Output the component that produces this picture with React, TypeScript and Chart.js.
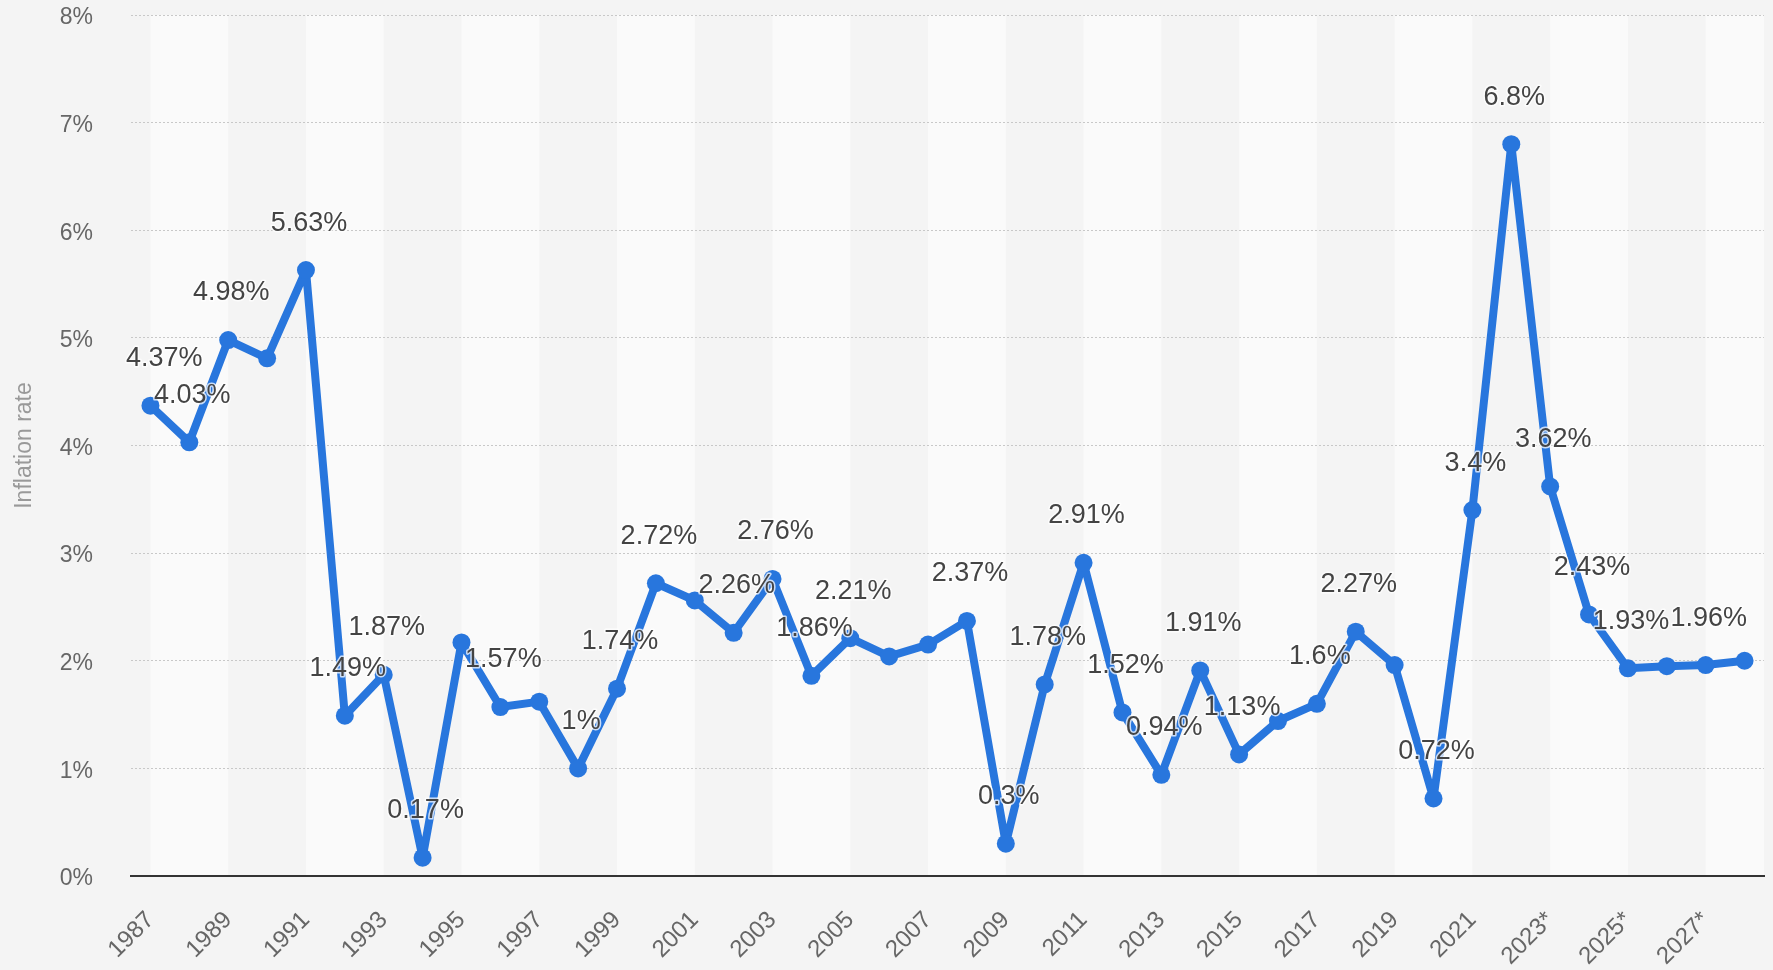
import React, { useEffect, useRef } from 'react';
import { Chart, registerables } from 'chart.js';

Chart.register(...registerables);

const years = [
  '1987', '1988', '1989', '1990', '1991', '1992', '1993', '1994', '1995', '1996',
  '1997', '1998', '1999', '2000', '2001', '2002', '2003', '2004', '2005', '2006',
  '2007', '2008', '2009', '2010', '2011', '2012', '2013', '2014', '2015', '2016',
  '2017', '2018', '2019', '2020', '2021', '2022', '2023*', '2024*', '2025*', '2026*',
  '2027*', '2028*',
];

const inflation = [
  4.37, 4.03, 4.98, 4.81, 5.63, 1.49, 1.87, 0.17, 2.17, 1.57,
  1.62, 1.0, 1.74, 2.72, 2.56, 2.26, 2.76, 1.86, 2.21, 2.04,
  2.15, 2.37, 0.3, 1.78, 2.91, 1.52, 0.94, 1.91, 1.13, 1.44,
  1.6, 2.27, 1.96, 0.72, 3.4, 6.8, 3.62, 2.43, 1.93, 1.95,
  1.96, 2.0,
];

const labelShown = [
  true, true, true, false, true, true, true, true, false, true,
  false, true, true, true, false, true, true, true, true, false,
  false, true, true, true, true, true, true, true, true, false,
  true, true, false, true, true, true, true, true, true, false,
  true, false,
];

const yTickValues = [0, 1, 2, 3, 4, 5, 6, 7, 8];

const FONT = "'Liberation Sans', Arial, Helvetica, sans-serif";
const BLUE = '#2876dd';

const bandsPlugin = {
  id: 'bands',
  beforeDraw(chart: any) {
    const { ctx, chartArea, scales } = chart;
    ctx.save();
    ctx.fillStyle = '#f4f4f4';
    ctx.fillRect(0, 0, chart.width, chart.height);
    const xs = scales.x;
    ctx.fillStyle = '#fafafa';
    const step = xs.getPixelForValue(1) - xs.getPixelForValue(0);
    for (let i = 0; i < years.length; i += 4) {
      const x0 = xs.getPixelForValue(i);
      const x1 = Math.min(x0 + 2 * step, chartArea.right);
      ctx.fillRect(x0, chartArea.top, x1 - x0, chartArea.bottom - chartArea.top);
    }
    ctx.restore();
  },
};

const labelsPlugin = {
  id: 'pointLabels',
  afterDatasetsDraw(chart: any) {
    const { ctx, chartArea } = chart;
    const meta = chart.getDatasetMeta(0);
    ctx.save();
    ctx.font = `27px ${FONT}`;
    ctx.textAlign = 'center';
    ctx.textBaseline = 'middle';
    ctx.lineJoin = 'round';
    meta.data.forEach((el: any, i: number) => {
      if (!labelShown[i]) return;
      const text = `${inflation[i]}%`;
      const w = ctx.measureText(text).width;
      let cx = el.x + 3;
      const minC = chartArea.left - 5 + w / 2;
      const maxC = chartArea.right + 5 - w / 2;
      if (cx < minC) cx = minC;
      if (cx > maxC) cx = maxC;
      const cy = el.y - 47;
      ctx.strokeStyle = 'rgba(255,255,255,0.75)';
      ctx.lineWidth = 3;
      ctx.strokeText(text, cx, cy);
      ctx.fillStyle = '#444444';
      ctx.fillText(text, cx, cy);
    });
    ctx.restore();
  },
};

export default function App() {
  const ref = useRef<HTMLCanvasElement | null>(null);

  useEffect(() => {
    if (!ref.current) return;
    const chart = new Chart(ref.current, {
      type: 'line',
      data: {
        labels: years,
        datasets: [
          {
            data: inflation,
            borderColor: BLUE,
            backgroundColor: BLUE,
            borderWidth: 8,
            borderJoinStyle: 'round',
            borderCapStyle: 'round',
            pointRadius: 9,
            pointHoverRadius: 9,
            pointBackgroundColor: BLUE,
            pointBorderWidth: 0,
            tension: 0,
            fill: false,
          },
        ],
      },
      options: {
        responsive: false,
        animation: false,
        events: [],
        layout: { autoPadding: false, padding: { top: 15, right: 9, left: 0, bottom: 0 } },
        plugins: {
          legend: { display: false },
          tooltip: { enabled: false },
        },
        scales: {
          x: {
            type: 'category',
            offset: true,
            grid: { display: false, drawTicks: false },
            border: { display: true, color: '#333333', width: 2 },
            afterFit(scale: any) {
              scale.height = 94;
              scale.paddingTop = 0;
              scale.paddingBottom = 0;
              scale.paddingLeft = 0;
              scale.paddingRight = 0;
            },
            ticks: {
              autoSkip: false,
              maxRotation: 45,
              minRotation: 45,
              padding: 30,
              color: '#666666',
              font: { family: FONT, size: 24 },
              callback: (_v: any, idx: number) => (idx % 2 === 0 ? years[idx] : ''),
            },
          },
          y: {
            min: 0,
            max: 8,
            afterFit(scale: any) {
              scale.width = 131;
              scale.paddingTop = 0;
              scale.paddingBottom = 0;
            },
            afterBuildTicks(scale: any) {
              scale.ticks = yTickValues.map((v) => ({ value: v }));
            },
            grid: {
              color: (c: any) => (c.tick && c.tick.value === 0 ? 'rgba(0,0,0,0)' : '#c8c8c8'),
              lineWidth: 1,
              drawTicks: false,
            },
            border: { display: false, dash: [2, 2] },
            ticks: {
              padding: 38,
              labelOffset: 3,
              color: '#666666',
              font: { family: FONT, size: 23 },
              callback: (v: any) => `${v}%`,
            },
            title: {
              display: true,
              text: 'Inflation rate',
              color: '#999999',
              font: { family: FONT, size: 23 },
              padding: { top: 11, bottom: 0 },
            },
          },
        },
      } as any,
      plugins: [bandsPlugin, labelsPlugin],
    });
    return () => chart.destroy();
  }, []);

  return (
    <div style={{ position: 'absolute', left: 0, top: 0, width: 1773, height: 970 }}>
      <canvas ref={ref} width={1773} height={970} style={{ display: 'block', width: 1773, height: 970 }} />
    </div>
  );
}
